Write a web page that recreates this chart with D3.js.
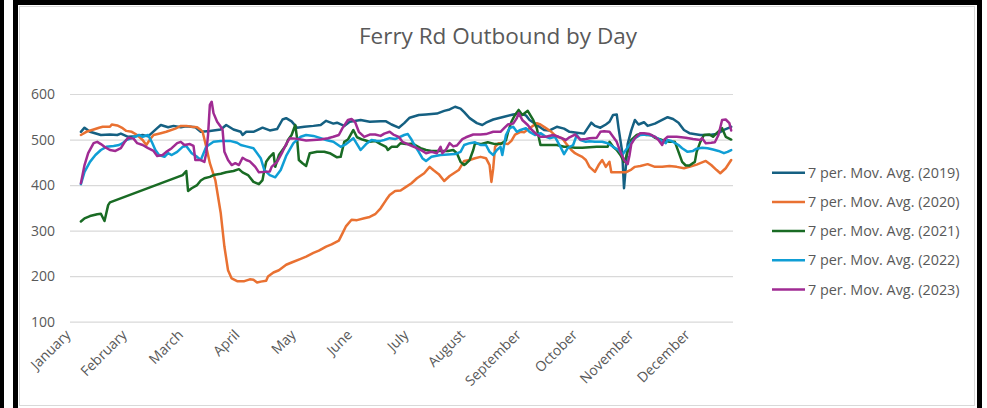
<!DOCTYPE html>
<html>
<head>
<meta charset="utf-8">
<script src="https://cdn.jsdelivr.net/npm/d3@7"></script>
<style>
  body { margin: 0; background: #fff; }
  svg { display: block; font-family: "Open Sans", sans-serif; }
</style>
</head>
<body>
<svg id="chart" width="987" height="408"></svg>
<script>
// 7-day moving averages as [day of year, value]
const s2019 = [[6,517],[8,526],[11,517],[17,510],[22,511],[26,510],[28,513],[32,506],[36,507],[40,510],[43,507],[48,525],[50,532],[54,527],[57,530],[61,527],[64,529],[69,527],[72,517],[77,519],[83,522],[86,532],[90,522],[94,517],[95,510],[97,517],[101,517],[106,526],[110,520],[114,523],[117,544],[119,547],[122,540],[125,526],[129,528],[134,530],[138,532],[141,541],[145,535],[147,537],[151,530],[154,539],[160,543],[165,539],[171,540],[174,540],[177,533],[181,526],[184,536],[187,548],[192,554],[196,555],[202,557],[206,563],[209,566],[212,572],[215,568],[217,560],[220,547],[224,536],[227,532],[229,537],[233,544],[239,550],[244,555],[247,557],[251,553],[253,543],[257,532],[261,521],[264,520],[268,528],[272,524],[275,517],[279,515],[283,513],[285,525],[287,537],[289,530],[292,526],[295,533],[297,539],[299,554],[301,555],[302,525],[304,473],[305,393],[306,440],[307,490],[309,520],[311,543],[313,533],[316,538],[318,530],[322,535],[326,543],[329,549],[332,545],[335,537],[338,521],[341,514],[347,510],[352,510],[356,512],[360,521],[364,528]];

const s2020 = [[6,510],[9,517],[13,522],[16,526],[18,528],[22,528],[23,533],[26,531],[29,525],[31,519],[34,517],[37,510],[40,499],[42,488],[44,500],[46,510],[50,514],[53,517],[58,524],[61,530],[64,530],[67,528],[70,527],[72,521],[73,517],[75,484],[77,448],[80,411],[83,338],[85,265],[87,213],[89,195],[92,189],[96,189],[99,193],[101,192],[103,186],[105,188],[108,190],[109,199],[112,208],[115,213],[119,225],[122,230],[127,238],[130,243],[134,251],[137,256],[141,265],[144,270],[148,278],[150,294],[152,310],[155,324],[158,323],[162,327],[165,330],[168,336],[171,349],[174,367],[176,378],[179,387],[182,388],[185,396],[188,404],[191,415],[195,426],[198,440],[200,433],[203,424],[206,409],[209,420],[214,433],[217,453],[220,455],[223,459],[226,462],[229,459],[231,444],[232,407],[233,437],[234,484],[236,492],[239,492],[241,490],[243,497],[245,511],[248,517],[250,516],[253,525],[257,536],[259,533],[262,525],[265,517],[268,506],[271,503],[273,492],[276,477],[278,470],[280,466],[282,462],[284,455],[286,440],[289,429],[291,444],[293,455],[295,440],[297,451],[298,428],[303,428],[306,428],[309,434],[311,440],[314,442],[318,446],[322,440],[326,440],[330,442],[334,440],[338,437],[341,440],[345,445],[350,453],[353,444],[356,433],[358,426],[361,437],[364,455]];

const s2021 = [[6,320],[8,327],[11,332],[15,336],[17,337],[19,321],[21,356],[22,362],[62,422],[64,431],[65,387],[67,393],[70,400],[72,410],[74,415],[77,418],[79,422],[83,425],[86,428],[90,431],[93,435],[95,428],[98,422],[101,407],[104,402],[106,411],[107,433],[108,451],[110,462],[112,470],[113,440],[115,466],[117,477],[119,488],[120,499],[122,510],[124,532],[125,503],[126,455],[128,448],[130,442],[132,470],[136,473],[140,473],[143,470],[147,461],[149,462],[151,495],[153,500],[156,521],[158,505],[161,500],[165,495],[168,497],[171,490],[174,484],[175,477],[177,484],[180,484],[182,492],[185,490],[188,491],[190,488],[193,481],[196,477],[199,475],[202,475],[208,475],[211,477],[213,470],[215,451],[217,444],[218,447],[220,455],[222,477],[223,492],[226,490],[230,494],[234,490],[237,490],[240,498],[241,514],[243,539],[245,554],[247,565],[249,554],[252,563],[255,543],[257,525],[259,488],[262,488],[265,488],[268,488],[272,484],[274,484],[278,482],[282,482],[286,483],[290,484],[293,484],[296,484],[297,495],[299,484],[301,477],[303,466],[305,451],[306,460],[309,499],[312,510],[315,514],[317,510],[320,510],[322,504],[326,499],[330,495],[333,495],[335,473],[337,451],[339,443],[341,443],[344,451],[345,473],[347,495],[349,510],[352,511],[354,506],[356,514],[359,525],[361,506],[364,500]];

const s2022 = [[6,402],[8,429],[11,451],[14,466],[17,477],[20,484],[24,486],[27,488],[29,492],[31,499],[34,503],[38,510],[40,506],[43,510],[45,495],[47,477],[49,466],[52,462],[54,470],[56,466],[59,473],[62,484],[64,486],[67,470],[70,462],[72,455],[75,484],[79,495],[83,497],[88,497],[92,493],[94,488],[97,485],[101,481],[105,459],[107,433],[110,422],[113,417],[116,433],[119,464],[123,492],[127,506],[130,510],[134,508],[138,503],[141,499],[145,495],[149,484],[152,490],[156,503],[158,490],[160,477],[163,490],[166,499],[169,497],[171,497],[173,499],[176,503],[179,501],[184,510],[186,512],[188,500],[190,485],[192,473],[194,459],[196,453],[199,462],[204,466],[208,467],[212,468],[215,473],[217,488],[220,492],[223,494],[226,488],[229,488],[231,473],[233,466],[235,477],[237,484],[238,466],[240,510],[242,525],[244,528],[246,517],[248,521],[251,525],[253,517],[256,510],[259,514],[262,506],[264,503],[267,506],[270,484],[272,468],[274,481],[277,488],[279,510],[281,499],[284,495],[286,496],[289,495],[293,495],[296,492],[299,484],[302,477],[304,466],[306,477],[308,488],[311,503],[314,510],[317,511],[319,510],[322,506],[325,499],[328,492],[329,499],[331,497],[335,488],[337,481],[340,473],[343,475],[345,480],[348,482],[351,481],[354,478],[357,475],[360,470],[362,473],[364,477]];

const s2023 = [[6,404],[8,444],[10,470],[13,492],[15,495],[17,490],[19,484],[22,477],[25,475],[28,481],[30,494],[32,504],[35,502],[37,492],[40,488],[43,481],[46,475],[48,464],[51,466],[53,473],[56,481],[59,492],[61,495],[63,488],[66,490],[68,486],[69,455],[72,455],[74,451],[75,470],[76,510],[77,576],[78,583],[79,558],[81,539],[83,528],[84,521],[85,473],[87,455],[89,444],[91,448],[93,444],[95,460],[97,455],[99,452],[102,440],[104,428],[107,429],[110,430],[111,440],[114,451],[117,473],[119,490],[121,503],[124,502],[127,500],[130,498],[134,499],[138,500],[142,503],[145,506],[148,510],[150,525],[153,543],[155,545],[157,538],[159,517],[162,506],[165,511],[168,511],[171,508],[173,513],[176,517],[178,511],[181,506],[183,495],[187,488],[191,481],[194,475],[196,470],[199,473],[202,470],[204,484],[205,470],[207,478],[209,492],[211,485],[213,487],[216,501],[218,505],[222,511],[226,511],[229,512],[233,517],[237,517],[239,525],[241,533],[244,535],[246,547],[247,558],[249,543],[252,532],[254,522],[257,511],[259,506],[262,506],[266,510],[269,506],[273,499],[275,505],[278,511],[281,500],[284,501],[286,503],[290,504],[292,517],[294,518],[297,517],[299,506],[301,495],[303,473],[305,455],[307,446],[308,465],[309,490],[311,503],[314,514],[316,514],[319,512],[322,506],[324,499],[326,488],[327,499],[329,506],[334,506],[339,504],[343,501],[347,499],[348,503],[350,492],[353,493],[355,494],[357,510],[359,543],[361,544],[363,536],[364,520]];

const seriesNames = ["7 per. Mov. Avg. (2019)", "7 per. Mov. Avg. (2020)", "7 per. Mov. Avg. (2021)", "7 per. Mov. Avg. (2022)", "7 per. Mov. Avg. (2023)"];
const seriesData = [s2019, s2020, s2021, s2022, s2023];
const seriesColors = ["#156082", "#E97132", "#196B24", "#0F9ED5", "#A02B93"];

const monthLabels = ["January", "February", "March", "April", "May", "June", "July", "August", "September", "October", "November", "December"];
const monthTickDays = [0, 31, 62, 93, 124, 155, 186, 217, 248, 279, 310, 341];
const yTicks = [100, 200, 300, 400, 500, 600];

const textColor = "#595959";
const svg = d3.select("#chart");

// outer black frame from the screenshot
svg.append("rect").attr("x", 0).attr("y", 0).attr("width", 4).attr("height", 408).attr("fill", "#000");
svg.append("rect").attr("x", 13).attr("y", 0).attr("width", 969).attr("height", 420).attr("fill", "#000");
svg.append("rect").attr("x", 18).attr("y", 5).attr("width", 959).attr("height", 420).attr("fill", "#fff");
// chart area border
svg.append("rect").attr("x", 19.5).attr("y", 6.5).attr("width", 955).attr("height", 399)
  .attr("fill", "#fff").attr("stroke", "#d9d9d9").attr("stroke-width", 1);

const plot = { left: 70, right: 733, top: 94, bottom: 321.7 };

const x = d3.scaleLinear().domain([0, 365]).range([plot.left, plot.right]);
const y = d3.scaleLinear().domain([100, 600]).range([plot.bottom, plot.top]);

// title
svg.append("text")
  .attr("x", 498)
  .attr("y", 44)
  .attr("text-anchor", "middle")
  .attr("fill", textColor)
  .style("font-size", "22.5px")
  .text("Ferry Rd Outbound by Day");

// gridlines
const grid = svg.append("g")
  .attr("transform", `translate(${plot.left},0)`)
  .call(d3.axisLeft(y).tickValues(yTicks).tickSize(-(plot.right - plot.left)).tickFormat(""));
grid.select(".domain").remove();
grid.selectAll("line").attr("stroke", "#d9d9d9").attr("stroke-width", 1.2);

// y axis labels
const yAxis = svg.append("g")
  .attr("transform", `translate(${plot.left - 15},0)`)
  .call(d3.axisLeft(y).tickValues(yTicks).tickSize(0).tickPadding(0));
yAxis.select(".domain").remove();
yAxis.selectAll("text").attr("fill", textColor).style("font-size", "14px").style("font-family", "Open Sans");

// x axis month labels, rotated
const xAxis = svg.append("g")
  .attr("transform", `translate(0,${plot.bottom})`)
  .call(d3.axisBottom(x).tickValues(monthTickDays).tickSize(0)
    .tickFormat((d, i) => monthLabels[i]));
xAxis.select(".domain").remove();
xAxis.selectAll("text")
  .attr("fill", textColor)
  .style("font-size", "14px")
  .style("font-family", "Open Sans")
  .attr("text-anchor", "end")
  .attr("dy", 0)
  .attr("y", 0)
  .attr("transform", "translate(1,14) rotate(-45)");

// lines
const line = d3.line().x(d => x(d[0])).y(d => y(d[1]));
svg.append("g")
  .selectAll("path")
  .data(seriesData)
  .join("path")
  .attr("d", line)
  .attr("fill", "none")
  .attr("stroke", (d, i) => seriesColors[i])
  .attr("stroke-width", 2.5)
  .attr("stroke-linejoin", "round")
  .attr("stroke-linecap", "round");

// legend
const legend = svg.append("g")
  .selectAll("g")
  .data(seriesNames)
  .join("g")
  .attr("transform", (d, i) => `translate(772,${172.7 + i * 29.2})`);
legend.append("line")
  .attr("x1", 0).attr("x2", 33)
  .attr("stroke", (d, i) => seriesColors[i])
  .attr("stroke-width", 2.5);
legend.append("text")
  .attr("x", 36)
  .attr("dy", "0.35em")
  .attr("fill", textColor)
  .style("font-size", "14.4px")
  .text(d => d);
</script>
</body>
</html>
